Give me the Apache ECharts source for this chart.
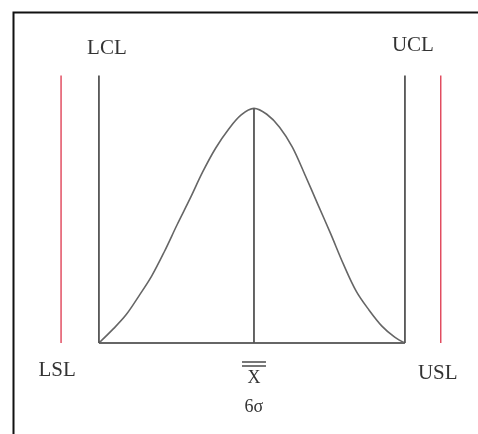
<!DOCTYPE html>
<html>
<head>
<meta charset="utf-8">
<script src="https://cdn.jsdelivr.net/npm/echarts@6/dist/echarts.min.js"></script>
<style>
  html, body { margin: 0; padding: 0; background: #fff; }
  #chart { width: 478px; height: 434px; }
</style>
</head>
<body>
<div id="chart"></div>
<script>
// x in sigma units (mean = 0), y relative to the curve peak
const CURVE_X = [-3.03, -2.75, -2.5, -2.25, -2.0, -1.75, -1.5, -1.25, -1.0, -0.75, -0.5, -0.25, 0,
  0.25, 0.5, 0.75, 1.0, 1.25, 1.5, 1.75, 2.0, 2.25, 2.5, 2.75, 2.95];
const CURVE_Y = [0, 0.06, 0.12, 0.2, 0.285, 0.39, 0.505, 0.615, 0.73, 0.83, 0.91, 0.972, 1.0,
  0.975, 0.92, 0.835, 0.715, 0.59, 0.465, 0.335, 0.22, 0.14, 0.072, 0.025, 0];

const MEAN_X = 0;
const MEAN_TOP = 1.0;
const CONTROL_LIMITS = [-3.03, 2.95];
const CONTROL_NAMES = ["LCL", "UCL"];
const SPEC_LIMITS = [-3.77, 3.65];
const SPEC_NAMES = ["LSL", "USL"];
const LIMIT_TOP = 1.14;

const FONT = "Liberation Serif";
const TEXT_COLOR = "#333";
const LINE_COLOR = "#555";
const SPEC_COLOR = "#e04257";

const labelBase = {
  show: true,
  fontFamily: FONT,
  fontSize: 21,
  color: TEXT_COLOR
};

function verticalSeries(x, top, color, width, labelPoint) {
  const data = [[x, 0], [x, top]];
  if (labelPoint) {
    const idx = labelPoint.atTop ? 1 : 0;
    data[idx] = { value: data[idx], label: Object.assign({}, labelBase, labelPoint.label) };
  }
  return {
    type: "line",
    data,
    symbol: "circle",
    symbolSize: 0,
    showSymbol: true,
    silent: true,
    lineStyle: { color, width },
    itemStyle: { color: "transparent" },
    z: 3
  };
}

const series = [];

// bell curve
series.push({
  type: "line",
  data: CURVE_X.map((x, i) => [x, CURVE_Y[i]]),
  smooth: 0.35,
  symbol: "none",
  silent: true,
  lineStyle: { color: "#666", width: 1.6 },
  z: 2
});

// baseline between the control limits
series.push({
  type: "line",
  data: [[CONTROL_LIMITS[0], 0], [CONTROL_LIMITS[1], 0]],
  symbol: "none",
  silent: true,
  lineStyle: { color: "#666", width: 2 },
  z: 2
});

// mean line with the x-bar / 6 sigma caption below
series.push(verticalSeries(MEAN_X, MEAN_TOP, LINE_COLOR, 1.8, {
  atTop: false,
  label: {
    position: "bottom",
    offset: [0, 12],
    formatter: "{bar| }\n{bar| }\n{x|X}\n{s|6σ}",
    rich: {
      bar: { width: 24, height: 1.6, lineHeight: 4, backgroundColor: "#555", align: "center" },
      x: { fontFamily: FONT, fontSize: 18, lineHeight: 20, color: TEXT_COLOR, align: "center" },
      s: { fontFamily: FONT, fontSize: 18, lineHeight: 38, color: TEXT_COLOR, align: "center" }
    }
  }
}));

// control limits, labelled at the top
const controlOffsets = [[8, -12], [8, -15]];
CONTROL_LIMITS.forEach((x, i) => {
  series.push(verticalSeries(x, LIMIT_TOP, LINE_COLOR, 1.8, {
    atTop: true,
    label: { position: "top", offset: controlOffsets[i], formatter: CONTROL_NAMES[i] }
  }));
});

// spec limits, labelled at the bottom
const specOffsets = [[-4, 12], [-3, 15]];
SPEC_LIMITS.forEach((x, i) => {
  series.push(verticalSeries(x, LIMIT_TOP, SPEC_COLOR, 1.4, {
    atTop: false,
    label: { position: "bottom", offset: specOffsets[i], formatter: SPEC_NAMES[i] }
  }));
});

const chart = echarts.init(document.getElementById("chart"));
chart.setOption({
  animation: false,
  backgroundColor: "#fff",
  tooltip: { show: false },
  grid: { left: 23.7, right: 9.1, top: 38, bottom: 91 },
  xAxis: { type: "value", min: -4.5, max: 4.2, show: false },
  yAxis: { type: "value", min: 0, max: 1.3, show: false },
  graphic: [{
    type: "rect",
    left: 11,
    top: 10,
    shape: { width: 472, height: 430 },
    style: { fill: "none", stroke: "#111", lineWidth: 2 },
    silent: true
  }],
  series
});
</script>
</body>
</html>
